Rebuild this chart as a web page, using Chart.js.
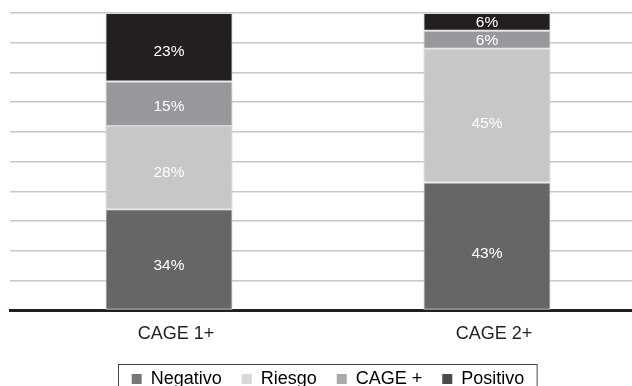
<!DOCTYPE html>
<html lang="es">
<head>
<meta charset="UTF-8">
<title>CAGE</title>
<script src="https://cdn.jsdelivr.net/npm/chart.js"></script>
<style>
    body {
        margin: 0;
        padding: 0;
        background: #fff;
        overflow: hidden;
    }
    .wrap {
        width: 646px;
        height: 398px;
    }
</style>
</head>
<body>
<div class="wrap"><canvas id="cage"></canvas></div>
<script>
// Categorias y valores (%)
const categorias = ["CAGE 1+", "CAGE 2+"];
const negativo = [34, 43];
const riesgo = [28, 45];
const cagePlus = [15, 6];
const positivo = [23, 6];
const yTicks = [0, 10, 20, 30, 40, 50, 60, 70, 80, 90, 100];

const colores = ["#666666", "#c6c7c9", "#97989b", "#231f20"];
const coloresLeyenda = ["#777777", "#d8d8d8", "#a9a9a9", "#4a4a4a"];

// etiquetas blancas dentro de cada segmento (un poco bajo el centro)
const etiquetas = {
    id: 'etiquetas',
    afterDatasetsDraw(chart) {
        const ctx = chart.ctx;
        ctx.save();
        ctx.font = '15.5px "Liberation Sans", Arial, sans-serif';
        ctx.fillStyle = '#ffffff';
        ctx.textAlign = 'center';
        ctx.textBaseline = 'middle';
        chart.data.datasets.forEach((ds, i) => {
            chart.getDatasetMeta(i).data.forEach((bar, j) => {
                const h = bar.base - bar.y;
                const pos = h > 25 ? bar.y + h * 0.56 : bar.y + h * 0.5 + 1;
                ctx.fillText(ds.data[j] + '%', bar.x, pos);
            });
        });
        ctx.restore();
    }
};

// marco alrededor de la leyenda
const marcoLeyenda = {
    id: 'marcoLeyenda',
    afterDraw(chart) {
        const boxes = chart.legend.legendHitBoxes;
        if (!boxes || !boxes.length) return;
        const left = Math.min(...boxes.map(b => b.left)) - 14;
        const right = Math.max(...boxes.map(b => b.left + b.width)) + 12;
        const top = boxes[0].top - 6;
        const ctx = chart.ctx;
        ctx.save();
        ctx.strokeStyle = '#444';
        ctx.lineWidth = 1;
        ctx.strokeRect(Math.round(left) + 0.5, Math.round(top) + 0.5, right - left, 40);
        ctx.restore();
    }
};

const series = [
    { label: 'Negativo', data: negativo },
    { label: 'Riesgo', data: riesgo },
    { label: 'CAGE +', data: cagePlus },
    { label: 'Positivo', data: positivo }
];

new Chart(document.getElementById('cage'), {
    type: 'bar',
    data: {
        labels: categorias,
        datasets: series.map((s, i) => ({
            label: s.label,
            data: s.data,
            backgroundColor: colores[i],
            borderColor: '#d6d6d6',
            borderWidth: 1,
            borderSkipped: false,
            barPercentage: 0.4,
            categoryPercentage: 1.0
        }))
    },
    options: {
        responsive: true,
        maintainAspectRatio: false,
        animation: false,
        layout: { padding: { left: 10, right: 0, top: 13, bottom: 0 } },
        plugins: {
            tooltip: { enabled: false },
            legend: {
                position: 'bottom',
                labels: {
                    font: { family: '"Liberation Sans", Arial, sans-serif', size: 18 },
                    color: '#231f20',
                    boxWidth: 10,
                    boxHeight: 10,
                    padding: 20,
                    generateLabels(chart) {
                        return chart.data.datasets.map((ds, i) => ({
                            text: ds.label,
                            fillStyle: coloresLeyenda[i],
                            strokeStyle: coloresLeyenda[i],
                            lineWidth: 0,
                            datasetIndex: i
                        }));
                    }
                }
            }
        },
        scales: {
            x: {
                stacked: true,
                grid: { display: false },
                border: { display: true, color: '#231f20', width: 3 },
                ticks: {
                    font: { family: '"Liberation Sans", Arial, sans-serif', size: 18 },
                    color: '#231f20',
                    padding: 5,
                    labelOffset: 7
                }
            },
            y: {
                stacked: true,
                min: 0,
                max: 100,
                afterBuildTicks(axis) {
                    axis.ticks = yTicks.map(v => ({ value: v }));
                },
                grid: { color: '#c8c8c8', lineWidth: 1.5, drawTicks: false },
                border: { display: false },
                ticks: { display: false }
            }
        }
    },
    plugins: [etiquetas, marcoLeyenda]
});
</script>
</body>
</html>
